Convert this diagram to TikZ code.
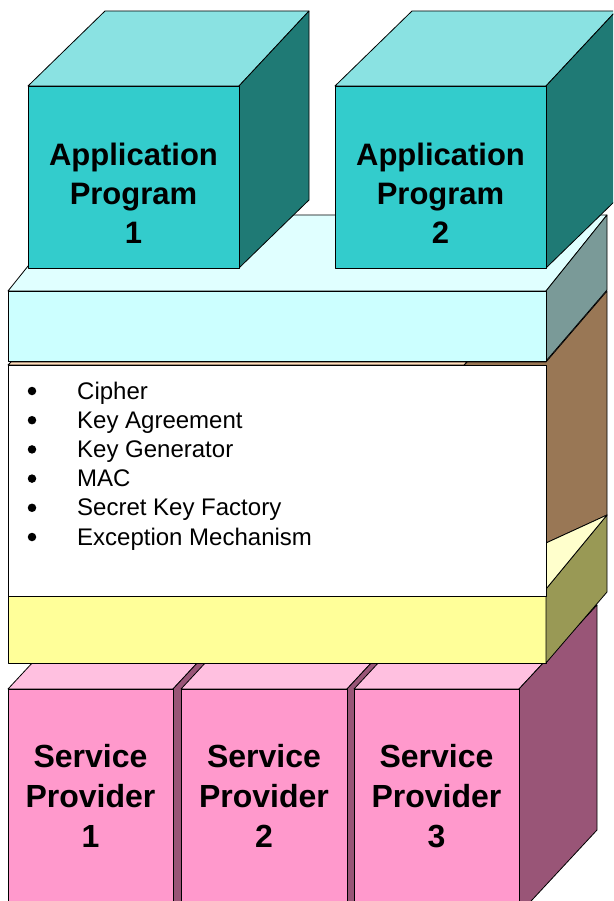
\documentclass[tikz,border=0pt]{standalone}
\usepackage{fontspec}
\setmainfont{Liberation Sans}
\definecolor{appfront}{HTML}{33CCCC}
\definecolor{apptop}{HTML}{8AE2E2}
\definecolor{appside}{HTML}{1F7A75}
\definecolor{apifront}{HTML}{CCFFFF}
\definecolor{apitop}{HTML}{E0FFFF}
\definecolor{apiside}{HTML}{7A9A98}
\definecolor{engtop}{HTML}{FFDDBB}
\definecolor{engside}{HTML}{997755}
\definecolor{spifront}{HTML}{FFFF99}
\definecolor{spitop}{HTML}{FFFFCC}
\definecolor{spiside}{HTML}{999955}
\definecolor{provfront}{HTML}{FF99CC}
\definecolor{provtop}{HTML}{FFC0E0}
\definecolor{provside}{HTML}{995577}
\tikzset{
  face/.style={draw=black, line width=0.8pt, line join=round},
  boxlabel/.style={align=center, font=\fontsize{31}{39}\selectfont\bfseries, inner sep=0pt},
  provlabel/.style={align=center, font=\fontsize{32}{40}\selectfont\bfseries, inner sep=0pt},
  item/.style={anchor=base west, font=\fontsize{24}{29}\selectfont, inner sep=0pt},
  dot/.style={fill=black, circle, minimum size=8.5pt, inner sep=0pt}
}
% provider box: front x-range #1..#2, label #3, node name #4
\newcommand{\provbox}[4]{%
  \filldraw[face, fill=provtop] (#1,689) -- (#1+78,605) -- (#2+78,605) -- (#2,689) -- cycle;
  \filldraw[face, fill=provside] (#2,689) -- (#2+78,605) -- (#2+78,830) -- (#2,914) -- cycle;
  \filldraw[face, fill=provfront] (#1,689) rectangle (#2,914);
  \node[provlabel] (#4) at ({(#1+#2)/2},796) {Service\\Provider\\#3};
}
\begin{document}
\begin{tikzpicture}[x=1pt,y=-1pt]
\useasboundingbox (0,0) rectangle (613,901);
\clip (0,0) rectangle (613,901);

% service providers
\provbox{8}{173}{1}{sp1}
\provbox{181}{347}{2}{sp2}
\provbox{354}{519}{3}{sp3}

% SPI layer
\filldraw[face, fill=spifront] (8,589) rectangle (546,663);
\filldraw[face, fill=spiside] (546,589) -- (607,515) -- (607,592) -- (546,663) -- cycle;

% engine layer
\filldraw[face, fill=engside] (464,365) -- (467,362) -- (546,362) -- (607,291) -- (607,515) -- (546,543) -- cycle;
\filldraw[face, fill=spitop] (546,543) -- (607,515) -- (546,589) -- cycle;
\filldraw[face, fill=engtop] (8,365) -- (11,362) -- (467,362) -- (464,365) -- cycle;
\filldraw[face, fill=white] (8,365) rectangle (546,596);

% engine classes
\foreach \t [count=\i from 0] in {Cipher, Key Agreement, Key Generator, MAC, Secret Key Factory, Exception Mechanism} {
  \node[dot] (b\i) at (32,391+29.2*\i) {};
  \node[item] (e\i) at (77,399+29.2*\i) {\t};
}

% API layer
\filldraw[face, fill=apitop] (8,291) -- (69,215) -- (607,215) -- (546,291) -- cycle;
\filldraw[face, fill=apiside] (546,291) -- (607,215) -- (607,290) -- (546,361) -- cycle;
\filldraw[face, fill=apifront] (8,291) rectangle (546,361);

% application programs
\filldraw[face, fill=apptop] (28,86) -- (105,11) -- (309,11) -- (239,86) -- cycle;
\filldraw[face, fill=appside] (239,86) -- (309,11) -- (309,200) -- (239,268) -- cycle;
\filldraw[face, fill=appfront] (28,86) rectangle (239,268);
\node[boxlabel] (ap1) at (133.5,193) {Application\\Program\\1};

\filldraw[face, fill=apptop] (335,86) -- (412,11) -- (616,11) -- (546,86) -- cycle;
\filldraw[face, fill=appside] (546,86) -- (616,11) -- (616,200) -- (546,268) -- cycle;
\filldraw[face, fill=appfront] (335,86) rectangle (546,268);
\node[boxlabel] (ap2) at (440.5,193) {Application\\Program\\2};
\end{tikzpicture}
\end{document}
